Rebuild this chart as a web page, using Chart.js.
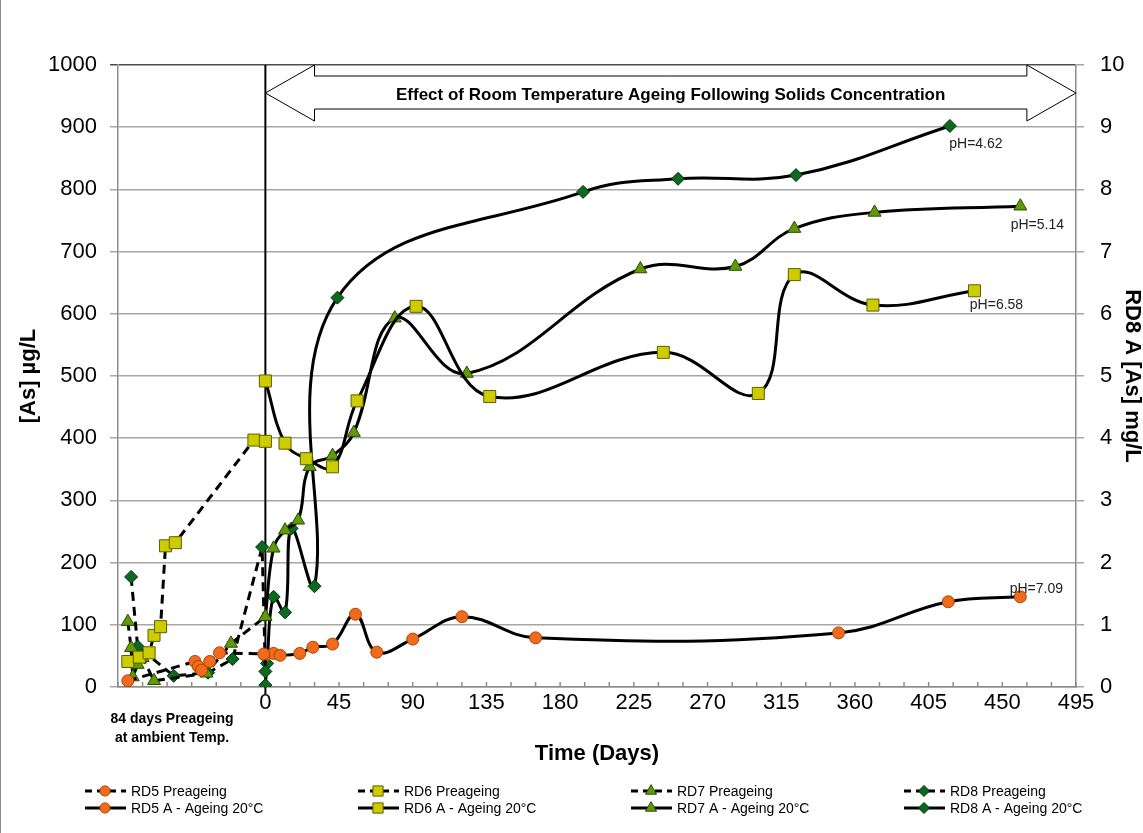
<!DOCTYPE html>
<html>
<head>
<meta charset="utf-8">
<script src="https://cdn.jsdelivr.net/npm/chart.js@4/dist/chart.umd.min.js"></script>
<style>
  html, body { margin: 0; padding: 0; background: #fff; }
  #wrap { width: 1143px; height: 833px; box-sizing: border-box; border-left: 1px solid #8c8c8c; }
</style>
</head>
<body>
<div id="wrap"><canvas id="chart" width="1142" height="833"></canvas></div>
<script>
// preageing, days before the start of room temperature ageing, [As] ug/L
var rd5PreDays = [-84, -43, -41, -39, -34, -28, -1];
var rd5PreAs   = [10, 41, 33, 27, 41, 55, 53];
var rd6PreDays = [-84, -77, -71, -68, -64, -61, -55, -7, 0];
var rd6PreAs   = [41, 48, 55, 83, 97, 227, 232, 397, 395];
var rd7PreDays = [-84, -82, -81, -78, -75, -68, -36, -21, 0];
var rd7PreAs   = [105, 63, 16, 36, 47, 10, 22, 70, 113];
var rd8PreDays = [-82, -78, -56, -35, -20, -2, 0];
var rd8PreAs   = [177, 65, 18, 23, 45, 225, 25];

// ageing at 20 C
var rd5Days = [0, 5, 9, 21, 29, 41, 55, 68, 90, 120, 165, 350, 417, 461];
var rd5As   = [51, 54, 51, 54, 64, 69, 117, 56, 77, 113, 79, 87, 137, 145];
var rd6Days = [0, 12, 25, 41, 56, 92, 137, 243, 301, 323, 371, 433];
var rd6As   = [492, 392, 367, 354, 460, 612, 467, 538, 472, 663, 614, 637];
var rd7Days = [0, 5, 12, 20, 27, 41, 54, 79, 123, 229, 287, 323, 372, 461];
var rd7As   = [113, 223, 252, 268, 354, 372, 409, 593, 504, 672, 676, 737, 763, 773];
// RD8 A is on the right axis, mg/L
var rd8Days = [0, 1, 5, 12, 16, 30, 44, 194, 252, 324, 418];
var rd8AsMg = [0.03, 0.38, 1.45, 1.2, 2.55, 1.62, 6.26, 7.96, 8.17, 8.23, 9.02];

var finalPh = ['pH=7.09', 'pH=6.58', 'pH=5.14', 'pH=4.62'];
var arrowText = 'Effect of Room Temperature Ageing Following Solids Concentration';
var preLabel = ['84 days Preageing', 'at ambient Temp.'];

Chart.defaults.font.family = '"Liberation Sans", Arial, sans-serif';
Chart.defaults.color = '#000';

var markers = {
  rd5: { style: 'circle', radius: 6, fill: '#F26A1B', stroke: '#A84500' },
  rd6: { style: 'rect', radius: 8.5, fill: '#CCCC00', stroke: '#5E5E00' },
  rd7: { style: 'triangle', radius: 7.5, fill: '#5F9A0A', stroke: '#2C4A00' },
  rd8: { style: 'rectRot', radius: 6.5, fill: '#0B6A1F', stroke: '#003008' }
};

function pts(days, vals) {
  return days.map(function(d, i) { return { x: d, y: vals[i] }; });
}

function series(label, data, m, dashed, axis) {
  return {
    label: label,
    data: data,
    yAxisID: axis || 'y',
    borderColor: '#000',
    borderWidth: 3,
    borderDash: dashed ? [9, 6] : [],
    tension: dashed ? 0 : 0.4,
    fill: false,
    pointStyle: m.style,
    pointRadius: m.radius,
    pointHoverRadius: m.radius,
    pointBackgroundColor: m.fill,
    pointBorderColor: m.stroke,
    pointBorderWidth: 1,
    marker: m,
    dashed: dashed
  };
}

function drawMarker(ctx, m, x, y) {
  var r = m.radius;
  ctx.beginPath();
  if (m.style === 'circle') {
    ctx.arc(x, y, r, 0, Math.PI * 2);
  } else if (m.style === 'rect') {
    var s = r * Math.SQRT1_2;
    ctx.rect(x - s, y - s, 2 * s, 2 * s);
  } else if (m.style === 'triangle') {
    ctx.moveTo(x, y - r);
    ctx.lineTo(x + r * 0.866, y + r * 0.5);
    ctx.lineTo(x - r * 0.866, y + r * 0.5);
    ctx.closePath();
  } else {
    ctx.moveTo(x - r, y); ctx.lineTo(x, y - r); ctx.lineTo(x + r, y); ctx.lineTo(x, y + r);
    ctx.closePath();
  }
  ctx.fillStyle = m.fill;
  ctx.fill();
  ctx.lineWidth = 1;
  ctx.strokeStyle = m.stroke;
  ctx.stroke();
}

var extras = {
  id: 'extras',
  beforeDatasetsDraw: function(chart) {
    var ctx = chart.ctx, a = chart.chartArea, xs = chart.scales.x;
    ctx.save();
    // small inside tick marks on the time axis
    ctx.strokeStyle = '#8c8c8c';
    ctx.lineWidth = 1.5;
    xs.ticks.forEach(function(t) {
      var px = xs.getPixelForValue(t.value);
      ctx.beginPath();
      ctx.moveTo(px, a.bottom);
      ctx.lineTo(px, a.bottom - 5);
      ctx.stroke();
    });
    // start of ageing
    var x0 = xs.getPixelForValue(0);
    ctx.strokeStyle = '#000';
    ctx.lineWidth = 2;
    ctx.beginPath();
    ctx.moveTo(x0, a.top);
    ctx.lineTo(x0, a.bottom + 8);
    ctx.stroke();
    ctx.restore();
  },
  afterDraw: function(chart) {
    var ctx = chart.ctx, a = chart.chartArea, xs = chart.scales.x;
    ctx.save();

    // double arrow
    var x0 = xs.getPixelForValue(0), x1 = xs.getPixelForValue(495);
    var h0 = xs.getPixelForValue(30), h1 = xs.getPixelForValue(465);
    var top = a.top, mid = a.top + 28, bot = a.top + 56, st = a.top + 11, sb = a.top + 44;
    ctx.beginPath();
    ctx.moveTo(x0, mid);
    ctx.lineTo(h0, top); ctx.lineTo(h0, st); ctx.lineTo(h1, st); ctx.lineTo(h1, top);
    ctx.lineTo(x1, mid);
    ctx.lineTo(h1, bot); ctx.lineTo(h1, sb); ctx.lineTo(h0, sb); ctx.lineTo(h0, bot);
    ctx.closePath();
    ctx.fillStyle = '#fff';
    ctx.fill();
    ctx.strokeStyle = '#000';
    ctx.lineWidth = 1;
    ctx.stroke();
    ctx.fillStyle = '#000';
    ctx.font = 'bold 17px "Liberation Sans", Arial, sans-serif';
    ctx.textAlign = 'center';
    ctx.textBaseline = 'middle';
    ctx.fillText(arrowText, (h0 + h1) / 2, (st + sb) / 2 + 3);

    // pH of the last sample of each ageing series
    var offs = [[16, -8], [22, 14], [17, 19], [26, 18]];
    ctx.font = '14px "Liberation Sans", Arial, sans-serif';
    ctx.fillStyle = '#222';
    for (var i = 0; i < 4; i++) {
      var els = chart.getDatasetMeta(4 + i).data;
      var p = els[els.length - 1];
      ctx.fillText(finalPh[i], p.x + offs[i][0], p.y + offs[i][1]);
    }

    // label under the preageing part of the axis
    ctx.fillStyle = '#000';
    ctx.font = 'bold 14px "Liberation Sans", Arial, sans-serif';
    var lx = xs.getPixelForValue(-57);
    ctx.fillText(preLabel[0], lx, a.bottom + 32);
    ctx.fillText(preLabel[1], lx, a.bottom + 51);

    // legend, 4 columns x 2 rows
    var colX = [84, 357, 630, 903];
    var rowY = [a.bottom + 104, a.bottom + 121];
    ctx.font = '14px "Liberation Sans", Arial, sans-serif';
    ctx.textAlign = 'left';
    chart.data.datasets.forEach(function(ds, k) {
      var cx = colX[k % 4], cy = rowY[Math.floor(k / 4)];
      ctx.strokeStyle = '#000';
      ctx.lineWidth = 3;
      ctx.setLineDash(ds.dashed ? [7, 5] : []);
      ctx.beginPath();
      ctx.moveTo(cx, cy);
      ctx.lineTo(cx + 41, cy);
      ctx.stroke();
      ctx.setLineDash([]);
      var m = Object.assign({}, ds.marker, { radius: ds.marker.radius * 0.85 });
      drawMarker(ctx, m, cx + 20, cy);
      ctx.fillStyle = '#000';
      ctx.fillText(ds.label, cx + 46, cy + 1);
    });
    ctx.restore();
  }
};

var datasets = [
  series('RD5 Preageing', pts(rd5PreDays, rd5PreAs), markers.rd5, true),
  series('RD6 Preageing', pts(rd6PreDays, rd6PreAs), markers.rd6, true),
  series('RD7 Preageing', pts(rd7PreDays, rd7PreAs), markers.rd7, true),
  series('RD8 Preageing', pts(rd8PreDays, rd8PreAs), markers.rd8, true),
  series('RD5 A - Ageing 20°C', pts(rd5Days, rd5As), markers.rd5, false),
  series('RD6 A - Ageing 20°C', pts(rd6Days, rd6As), markers.rd6, false),
  series('RD7 A - Ageing 20°C', pts(rd7Days, rd7As), markers.rd7, false),
  series('RD8 A - Ageing 20°C', pts(rd8Days, rd8AsMg), markers.rd8, false, 'y2')
];

new Chart(document.getElementById('chart'), {
  type: 'line',
  data: { datasets: datasets },
  options: {
    responsive: false,
    animation: false,
    layout: { padding: { top: 65, bottom: 66, left: 0, right: 0 } },
    plugins: { legend: { display: false }, tooltip: { enabled: false } },
    scales: {
      x: {
        type: 'linear',
        min: -90,
        max: 495,
        grid: { display: false, drawTicks: false },
        border: { color: '#8c8c8c', width: 1.5 },
        ticks: {
          stepSize: 15,
          autoSkip: false,
          maxRotation: 0,
          padding: 3,
          font: { size: 22 },
          callback: function(v) { return (v >= 0 && v % 45 === 0) ? String(v) : ''; }
        },
        title: { display: true, text: 'Time (Days)', font: { size: 22, weight: 'bold' }, padding: 0 },
        afterFit: function(s) { s.height = 80; }
      },
      y: {
        position: 'left',
        min: 0,
        max: 1000,
        ticks: { stepSize: 100, padding: 13, font: { size: 22 }, callback: function(v) { return String(v); } },
        grid: {
          color: function(c) { return c.tick && c.tick.value === 1000 ? '#4d4d4d' : '#a6a6a6'; },
          lineWidth: 1.5,
          tickLength: 8
        },
        border: { color: '#8c8c8c', width: 1.5 },
        title: { display: true, text: '[As] µg/L', font: { size: 22, weight: 'bold' }, padding: { top: 15, bottom: 0 } },
        afterFit: function(s) { s.width = 117; }
      },
      y2: {
        position: 'right',
        min: 0,
        max: 10,
        ticks: { stepSize: 1, padding: 16, font: { size: 22 } },
        grid: { drawOnChartArea: false, color: '#a6a6a6', lineWidth: 1.5, tickLength: 8 },
        border: { color: '#8c8c8c', width: 1.5 },
        title: { display: true, text: 'RD8 A [As] mg/L', font: { size: 22, weight: 'bold', lineHeight: 1 }, padding: { top: 0, bottom: 0 } },
        afterFit: function(s) { s.width = 67; }
      }
    }
  },
  plugins: [extras]
});
</script>
</body>
</html>
